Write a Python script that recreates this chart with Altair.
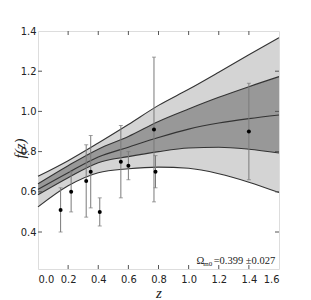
import altair as alt
import pandas as pd

# Curve grid
z_grid = [0.0, 0.2, 0.4, 0.6, 0.8, 1.0, 1.2, 1.4, 1.6]
outer_up = [0.677, 0.755, 0.843, 0.935, 1.030, 1.110, 1.195, 1.282, 1.367]
inner_up = [0.640, 0.730, 0.812, 0.875, 0.950, 1.012, 1.070, 1.123, 1.173]
middle = [0.612, 0.695, 0.773, 0.822, 0.870, 0.912, 0.942, 0.964, 0.982]
inner_lo = [0.585, 0.670, 0.745, 0.775, 0.800, 0.818, 0.822, 0.812, 0.793]
outer_lo = [0.525, 0.630, 0.695, 0.715, 0.723, 0.717, 0.690, 0.648, 0.596]

# Observations
z_obs = [0.15, 0.22, 0.32, 0.35, 0.41, 0.55, 0.60, 0.77, 0.78, 1.40]
f_obs = [0.51, 0.60, 0.654, 0.70, 0.50, 0.75, 0.73, 0.91, 0.70, 0.90]
f_err = [0.11, 0.10, 0.18, 0.18, 0.07, 0.18, 0.07, 0.36, 0.08, 0.24]

x_ticks = [0.0, 0.2, 0.4, 0.6, 0.8, 1.0, 1.2, 1.4, 1.6]
y_ticks = [0.4, 0.6, 0.8, 1.0, 1.2, 1.4]

ann_sym = "Ω"
ann_sub = "m0"
ann_val = "=0.399 ±0.027"

W, H = 241, 238
XDOM = [0.0, 1.6]
YDOM = [0.216, 1.4]

curves = pd.DataFrame({"z": z_grid, "ou": outer_up, "iu": inner_up, "m": middle,
                       "il": inner_lo, "ol": outer_lo})
obs = pd.DataFrame({"z": z_obs, "f": f_obs, "err": f_err})
obs["lo"] = obs["f"] - obs["err"]
obs["hi"] = obs["f"] + obs["err"]

label_font = "Liberation Sans Narrow, DejaVu Sans Condensed, sans-serif"

xs = alt.Scale(domain=XDOM, nice=False, zero=False)
ys = alt.Scale(domain=YDOM, nice=False, zero=False)

xax = alt.Axis(values=x_ticks, format=".1f", ticks=False, domain=False, grid=False,
               labelOverlap=False, labelFont=label_font, labelFontSize=11, labelColor="#222",
               labelPadding=4,
               title="z", titleFont="Liberation Serif", titleFontStyle="italic",
               titleFontWeight="normal", titleFontSize=15, titleColor="#222",
               titleY=23, titleBaseline="middle")
yax = alt.Axis(values=y_ticks, format=".1f", ticks=False, domain=False, grid=False,
               labelOverlap=False, labelFont=label_font, labelFontSize=11, labelColor="#222",
               labelPadding=2,
               title="f(z)", titleFont="Liberation Serif", titleFontStyle="italic",
               titleFontWeight="normal", titleFontSize=15, titleColor="#222",
               titleX=-19, titleY=H / 2 - 2, titleBaseline="middle", titleAngle=270)

X = lambda f: alt.X(f, scale=xs, axis=xax)
Y = lambda f: alt.Y(f, scale=ys, axis=yax)

base = alt.Chart(curves)
outer_band = base.mark_area(color="#d4d4d4", interpolate="monotone").encode(
    x=X("z:Q"), y=Y("ol:Q"), y2="ou:Q")
inner_band = base.mark_area(color="#989898", interpolate="monotone").encode(
    x=X("z:Q"), y=Y("il:Q"), y2="iu:Q")

lines = []
for col in ["ou", "iu", "m", "il", "ol"]:
    lines.append(base.mark_line(color="#333333", strokeWidth=1.1, interpolate="monotone").encode(
        x=X("z:Q"), y=Y(f"{col}:Q")))

ob = alt.Chart(obs)
bars = ob.mark_rule(color="#7a7a7a", strokeWidth=1).encode(
    x=X("z:Q"), y=Y("lo:Q"), y2="hi:Q")
cap_hi = ob.mark_tick(color="#7a7a7a", orient="horizontal", size=4, thickness=1).encode(
    x=X("z:Q"), y=Y("hi:Q"))
cap_lo = ob.mark_tick(color="#7a7a7a", orient="horizontal", size=4, thickness=1).encode(
    x=X("z:Q"), y=Y("lo:Q"))
pts = ob.mark_circle(color="black", opacity=1, size=16).encode(
    x=X("z:Q"), y=Y("f:Q"))

# inward ticks (matplotlib-style box)
xt_df = pd.DataFrame({"t": x_ticks[1:-1]})
yt_df = pd.DataFrame({"t": y_ticks[:-1]})
tick_col = "#555555"
xt_bot = alt.Chart(xt_df).mark_rule(color=tick_col).encode(
    x=X("t:Q"), y=alt.value(H), y2=alt.value(H - 4))
xt_top = alt.Chart(xt_df).mark_rule(color=tick_col).encode(
    x=X("t:Q"), y=alt.value(0), y2=alt.value(4))
yt_left = alt.Chart(yt_df).mark_rule(color=tick_col).encode(
    y=Y("t:Q"), x=alt.value(0), x2=alt.value(4))
yt_right = alt.Chart(yt_df).mark_rule(color=tick_col).encode(
    y=Y("t:Q"), x=alt.value(W), x2=alt.value(W - 4))

ann_df = pd.DataFrame({"x": [1.575], "y": [0.255], "a": [ann_sym], "b": [ann_sub], "c": [ann_val]})
ann_c = alt.Chart(ann_df).mark_text(
    align="right", baseline="middle", font="Liberation Serif", fontSize=10.5, color="#222"
).encode(x=X("x:Q"), y=Y("y:Q"), text="c:N")
ann_b = alt.Chart(ann_df).mark_text(
    align="right", baseline="middle", font="Liberation Serif", fontSize=7, color="#222",
    dx=-63, dy=3
).encode(x=X("x:Q"), y=Y("y:Q"), text="b:N")
ann_a = alt.Chart(ann_df).mark_text(
    align="right", baseline="middle", font="Liberation Serif", fontSize=10.5, color="#222",
    dx=-71
).encode(x=X("x:Q"), y=Y("y:Q"), text="a:N")

chart = alt.layer(outer_band, inner_band, *lines, bars, cap_hi, cap_lo, pts,
                  xt_bot, xt_top, yt_left, yt_right, ann_c, ann_b, ann_a).properties(
    width=W, height=H,
    autosize=alt.AutoSizeParams(type="none"),
    padding={"left": 30, "top": 23, "right": 20, "bottom": 32},
).configure_view(stroke="#666666", strokeWidth=1).configure(background="white")

chart.save("out.html", embed_options={"renderer": "svg", "actions": False})
